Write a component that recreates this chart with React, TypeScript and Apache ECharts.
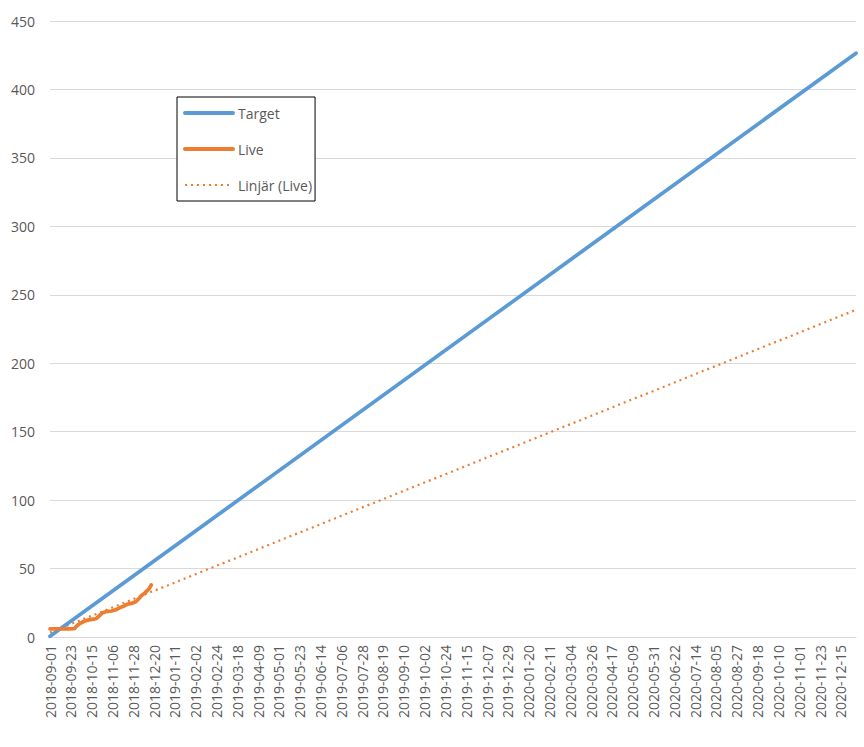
import React, { useEffect, useRef } from "react";
import * as echarts from "echarts";

// Category list: every day from 2018-09-01 to 2020-12-31
const startDate = "2018-09-01";
const endDate = "2020-12-31";
function buildDays(a: string, b: string): string[] {
  const out: string[] = [];
  const d = new Date(a + "T00:00:00Z");
  const e = new Date(b + "T00:00:00Z");
  while (d.getTime() <= e.getTime()) {
    out.push(d.toISOString().slice(0, 10));
    d.setUTCDate(d.getUTCDate() + 1);
  }
  return out;
}
const categories = buildDays(startDate, endDate);

// Target line (read endpoints)
const targetDates = ["2018-09-01", "2020-12-31"];
const targetValues = [0.5, 426.5];

// Live series
const liveDates = [
  "2018-09-01", "2018-09-10", "2018-09-20", "2018-09-27", "2018-09-30",
  "2018-10-03", "2018-10-07", "2018-10-12", "2018-10-17", "2018-10-20",
  "2018-10-23", "2018-10-26", "2018-10-30", "2018-11-05", "2018-11-10",
  "2018-11-14", "2018-11-18", "2018-11-22", "2018-11-26", "2018-12-01",
  "2018-12-04", "2018-12-07", "2018-12-10", "2018-12-13", "2018-12-15",
  "2018-12-17",
];
const liveValues = [
  6, 6, 6, 6.2, 8.5,
  10, 11.5, 12.5, 13, 13.5,
  15.5, 17.5, 18.5, 19, 20,
  21.5, 22.5, 24, 24.5, 26,
  28, 30.5, 32, 34, 35.5,
  38,
];

// Linear trend of Live (read endpoints)
const trendDates = ["2018-09-01", "2020-12-31"];
const trendValues = [3.3, 239];

const yTicks = { min: 0, max: 450, interval: 50 };

const FONT = "'Open Sans', 'Noto Sans', sans-serif";

export default function App() {
  const ref = useRef<HTMLDivElement>(null);
  useEffect(() => {
    if (!ref.current) return;
    const chart = echarts.init(ref.current, undefined, { renderer: "svg" });
    const pair = (ds: string[], vs: number[]) => ds.map((d, i) => [d, vs[i]]);
    chart.setOption({
      animation: false,
      backgroundColor: "#ffffff",
      grid: { left: 50, right: 8, top: 21, bottom: 110, containLabel: false },
      legend: {
        orient: "vertical",
        left: 177,
        top: 97,
        padding: [9, 3, 9, 6],
        itemWidth: 48,
        itemHeight: 14,
        itemGap: 22,
        borderColor: "#000000",
        borderWidth: 1,
        backgroundColor: "#ffffff",
        itemStyle: { opacity: 0 },
        textStyle: { color: "#595959", fontSize: 14, fontFamily: FONT },
        data: [
          { name: "Target", lineStyle: { width: 4, cap: "round" } },
          { name: "Live", lineStyle: { width: 4, cap: "round" } },
          { name: "Linjär (Live)", lineStyle: { width: 2.2, type: [2, 4] } },
        ],
      },
      xAxis: {
        type: "category",
        data: categories,
        boundaryGap: false,
        axisLine: { lineStyle: { color: "#d9d9d9", width: 1 } },
        axisTick: { show: false },
        axisLabel: {
          interval: 21,
          rotate: 90,
          color: "#595959",
          fontSize: 14,
          fontFamily: FONT,
          margin: 8,
        },
        splitLine: { show: false },
      },
      yAxis: {
        type: "value",
        min: yTicks.min,
        max: yTicks.max,
        interval: yTicks.interval,
        axisLine: { show: false },
        axisTick: { show: false },
        axisLabel: { color: "#595959", fontSize: 14, fontFamily: FONT, margin: 15 },
        splitLine: { lineStyle: { color: "#d9d9d9", width: 1 } },
      },
      series: [
        {
          name: "Target",
          type: "line",
          data: pair(targetDates, targetValues),
          symbol: "none",
          lineStyle: { color: "#5b9bd5", width: 3.75, cap: "round" },
          itemStyle: { color: "#5b9bd5" },
          z: 2,
        },
        {
          name: "Live",
          type: "line",
          data: pair(liveDates, liveValues),
          symbol: "none",
          lineStyle: { color: "#ed7d31", width: 3.75, cap: "round", join: "round" },
          itemStyle: { color: "#ed7d31" },
          z: 3,
        },
        {
          name: "Linjär (Live)",
          type: "line",
          data: pair(trendDates, trendValues),
          symbol: "none",
          lineStyle: { color: "#ed7d31", width: 2.2, type: [2, 4] },
          itemStyle: { color: "#ed7d31" },
          z: 1,
        },
      ],
    });
    return () => chart.dispose();
  }, []);
  return (
    <div
      ref={ref}
      style={{ position: "absolute", left: 0, top: 0, width: 864, height: 747 }}
    />
  );
}
